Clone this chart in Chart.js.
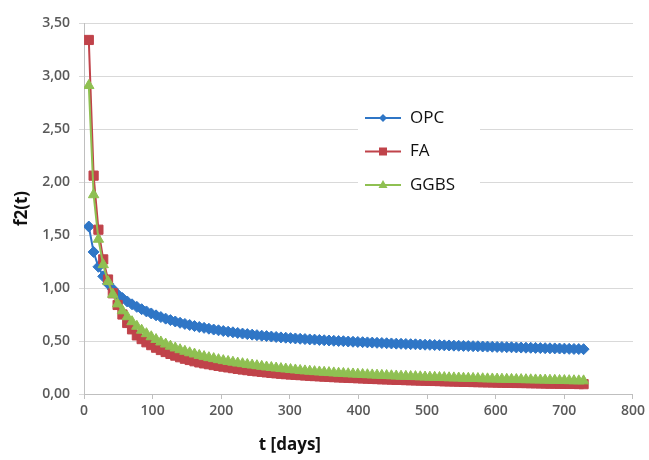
<!DOCTYPE html>
<html lang="en">
<head>
<meta charset="UTF-8">
<title>f2(t)</title>
<script src="https://cdn.jsdelivr.net/npm/chart.js"></script>
<style>
  body { margin: 0; background: #fff; }
  #wrap { width: 649px; height: 460px; }
</style>
</head>
<body>
<div id="wrap"><canvas id="f2Chart" width="649" height="460"></canvas></div>
<script>
// time in days
const days = [7, 14, 21, 28, 35, 42, 49, 56, 63, 70, 77, 84, 91, 98, 105, 112, 119, 126, 133, 140,
  147, 154, 161, 168, 175, 182, 189, 196, 203, 210, 217, 224, 231, 238, 245, 252, 259, 266, 273, 280,
  287, 294, 301, 308, 315, 322, 329, 336, 343, 350, 357, 364, 371, 378, 385, 392, 399, 406, 413, 420,
  427, 434, 441, 448, 455, 462, 469, 476, 483, 490, 497, 504, 511, 518, 525, 532, 539, 546, 553, 560,
  567, 574, 581, 588, 595, 602, 609, 616, 623, 630, 637, 644, 651, 658, 665, 672, 679, 686, 693, 700,
  707, 714, 721, 728];

const opc = [1.58, 1.34, 1.20, 1.11, 1.04, 0.99, 0.94, 0.905, 0.873, 0.846,
  0.822, 0.800, 0.779, 0.760, 0.742, 0.726, 0.711, 0.697, 0.684, 0.672,
  0.661, 0.651, 0.641, 0.632, 0.624, 0.616, 0.608, 0.601, 0.594, 0.588,
  0.582, 0.576, 0.570, 0.565, 0.560, 0.555, 0.550, 0.546, 0.542, 0.538,
  0.534, 0.531, 0.527, 0.524, 0.521, 0.518, 0.515, 0.513, 0.510, 0.507,
  0.505, 0.502, 0.500, 0.498, 0.495, 0.493, 0.491, 0.489, 0.487, 0.485,
  0.483, 0.481, 0.479, 0.477, 0.475, 0.474, 0.472, 0.470, 0.469, 0.467,
  0.465, 0.464, 0.462, 0.461, 0.459, 0.458, 0.456, 0.455, 0.454, 0.452,
  0.451, 0.450, 0.448, 0.447, 0.446, 0.444, 0.443, 0.442, 0.441, 0.439,
  0.438, 0.437, 0.436, 0.435, 0.433, 0.432, 0.431, 0.430, 0.429, 0.428,
  0.426, 0.425, 0.424, 0.423];

const fa = [3.34, 2.06, 1.55, 1.27, 1.08, 0.95, 0.84, 0.75, 0.67, 0.61,
  0.553, 0.518, 0.488, 0.461, 0.437, 0.415, 0.396, 0.378, 0.362, 0.347,
  0.333, 0.321, 0.309, 0.298, 0.289, 0.281, 0.273, 0.265, 0.258, 0.251,
  0.244, 0.237, 0.231, 0.225, 0.219, 0.214, 0.209, 0.204, 0.199, 0.195,
  0.191, 0.187, 0.184, 0.181, 0.178, 0.175, 0.172, 0.169, 0.167, 0.164,
  0.162, 0.159, 0.157, 0.155, 0.153, 0.151, 0.149, 0.147, 0.145, 0.143,
  0.141, 0.139, 0.138, 0.136, 0.134, 0.133, 0.131, 0.130, 0.128, 0.127,
  0.126, 0.124, 0.123, 0.122, 0.120, 0.119, 0.118, 0.117, 0.115, 0.114,
  0.113, 0.112, 0.111, 0.110, 0.109, 0.108, 0.107, 0.106, 0.105, 0.104,
  0.104, 0.103, 0.102, 0.101, 0.100, 0.099, 0.098, 0.098, 0.097, 0.096,
  0.095, 0.095, 0.094, 0.093];

const ggbs = [2.91, 1.88, 1.46, 1.22, 1.06, 0.94, 0.85, 0.785, 0.729, 0.682,
  0.639, 0.602, 0.569, 0.540, 0.514, 0.491, 0.471, 0.451, 0.434, 0.418,
  0.403, 0.389, 0.377, 0.364, 0.353, 0.343, 0.334, 0.324, 0.315, 0.307,
  0.300, 0.292, 0.286, 0.279, 0.273, 0.267, 0.261, 0.255, 0.250, 0.245,
  0.240, 0.236, 0.231, 0.227, 0.222, 0.218, 0.215, 0.211, 0.208, 0.205,
  0.202, 0.199, 0.196, 0.194, 0.191, 0.189, 0.187, 0.184, 0.182, 0.180,
  0.178, 0.176, 0.174, 0.172, 0.170, 0.168, 0.167, 0.165, 0.164, 0.162,
  0.160, 0.159, 0.158, 0.156, 0.155, 0.153, 0.152, 0.151, 0.149, 0.148,
  0.147, 0.146, 0.144, 0.143, 0.142, 0.141, 0.140, 0.139, 0.138, 0.137,
  0.136, 0.135, 0.134, 0.133, 0.132, 0.131, 0.130, 0.129, 0.128, 0.127,
  0.126, 0.125, 0.124, 0.124];

const seriesNames = ["OPC", "FA", "GGBS"];
const seriesColors = ["#2f76c6", "#c0434a", "#8fc052"];
const xTitle = "t [days]";
const yTitle = "f2(t)";

function points(values) {
  return values.map((v, i) => ({ x: days[i], y: v }));
}

const tickFont = { family: "'Open Sans', sans-serif", size: 14, weight: "600" };

function legendMarker(ctx, style, x, y) {
  ctx.beginPath();
  if (style === "rectRot") {
    ctx.moveTo(x, y - 4); ctx.lineTo(x + 4, y); ctx.lineTo(x, y + 4); ctx.lineTo(x - 4, y);
  } else if (style === "rect") {
    ctx.rect(x - 4, y - 4, 8, 8);
  } else {
    ctx.moveTo(x, y - 5); ctx.lineTo(x + 4.5, y + 3); ctx.lineTo(x - 4.5, y + 3);
  }
  ctx.closePath();
  ctx.fill();
}

// legend sits inside the plot, on a white box, plus the x title off-centre
const insideLegend = {
  id: "insideLegend",
  afterDraw(chart) {
    const { ctx, chartArea } = chart;
    const left = chartArea.left + 274;
    const top = chartArea.top + 77;
    ctx.save();
    ctx.fillStyle = "#fff";
    ctx.fillRect(left, top, 122, 102);
    chart.data.datasets.forEach((ds, i) => {
      const y = top + 18 + i * 33.5;
      ctx.strokeStyle = ds.borderColor;
      ctx.fillStyle = ds.borderColor;
      ctx.lineWidth = 2;
      ctx.beginPath();
      ctx.moveTo(left + 7, y);
      ctx.lineTo(left + 43, y);
      ctx.stroke();
      legendMarker(ctx, ds.pointStyle, left + 25, y);
      ctx.fillStyle = "#111";
      ctx.font = "17px 'Open Sans', sans-serif";
      ctx.textBaseline = "middle";
      ctx.textAlign = "left";
      ctx.fillText(ds.label, left + 52, y);
    });
    ctx.font = "bold 17px 'Open Sans', sans-serif";
    ctx.textAlign = "center";
    ctx.textBaseline = "middle";
    ctx.fillStyle = "#111";
    ctx.fillText(xTitle, chartArea.left + (chartArea.right - chartArea.left) * 0.375, chartArea.bottom + 51);
    ctx.restore();
  }
};

const styles = ["rectRot", "rect", "triangle"];
const radii = [5.5, 6.5, 6];
const seriesData = [opc, fa, ggbs];

new Chart(document.getElementById("f2Chart"), {
  type: "line",
  data: {
    datasets: seriesNames.map((name, i) => ({
      label: name,
      data: points(seriesData[i]),
      borderColor: seriesColors[i],
      backgroundColor: seriesColors[i],
      pointBackgroundColor: seriesColors[i],
      pointBorderColor: seriesColors[i],
      pointStyle: styles[i],
      pointRadius: radii[i],
      pointBorderWidth: 1,
      borderWidth: 2,
      tension: 0,
      order: 2 - i
    }))
  },
  options: {
    responsive: false,
    animation: false,
    layout: { padding: { top: 23, right: 13, left: 0, bottom: 0 } },
    plugins: {
      legend: { display: false },
      tooltip: { enabled: false }
    },
    scales: {
      x: {
        type: "linear",
        min: 0,
        max: 800,
        afterFit(scale) { scale.height = 66; },
        ticks: {
          stepSize: 100,
          color: "#595959",
          font: tickFont,
          padding: 4,
          maxRotation: 0
        },
        grid: { drawOnChartArea: false, tickLength: 5, color: "#bfbfbf" },
        border: { color: "#bfbfbf" }
      },
      y: {
        min: 0,
        max: 3.5,
        afterFit(scale) { scale.width = 84; },
        ticks: {
          stepSize: 0.5,
          color: "#595959",
          font: tickFont,
          padding: 9,
          callback: (v) => v.toFixed(2).replace(".", ",")
        },
        grid: { color: "#d9d9d9", tickLength: 5 },
        border: { color: "#bfbfbf" },
        title: {
          display: true,
          text: yTitle,
          color: "#111",
          font: { family: "'Open Sans', sans-serif", size: 17, weight: "bold" },
          padding: { top: 12, bottom: 0 }
        }
      }
    }
  },
  plugins: [insideLegend]
});
</script>
</body>
</html>
